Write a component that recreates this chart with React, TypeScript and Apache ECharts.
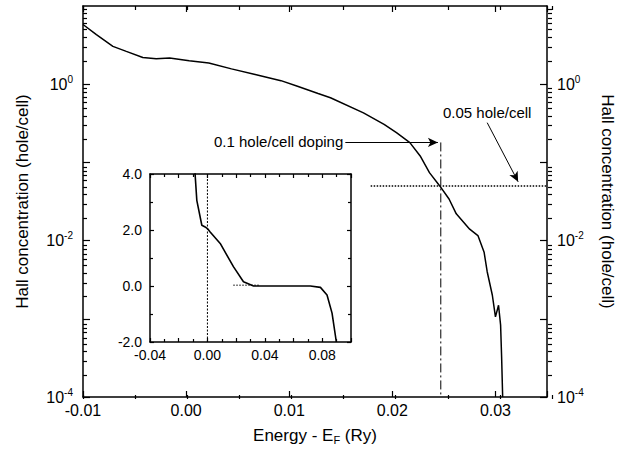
import React, { useEffect, useRef } from "react";
import * as echarts from "echarts";

// ---------- data ----------
const mainX = [
  -0.0100, -0.0087, -0.0071, -0.0058, -0.0042, -0.0029, -0.0016, 0.0003, 0.0022,
  0.0044, 0.0067, 0.0092, 0.0108, 0.0128, 0.0140, 0.0172, 0.0192, 0.0204, 0.0217,
  0.0227, 0.0236, 0.0246, 0.0255, 0.0262, 0.0275, 0.0283, 0.0289, 0.0292, 0.0297,
  0.0300, 0.0303, 0.0305, 0.0306, 0.0307,
];
const mainY = [
  5.8, 4.3, 3.05, 2.63, 2.2, 2.12, 2.17, 2.0, 1.87,
  1.57, 1.33, 1.11, 0.94, 0.76, 0.67, 0.43, 0.307, 0.24, 0.179,
  0.121, 0.074, 0.05, 0.034, 0.022, 0.014, 0.0116, 0.0071, 0.004, 0.002,
  0.00106, 0.00149, 0.00083, 0.00032, 0.0001,
];

const insetX = [
  -0.0092, -0.0086, -0.0074, -0.0039, -0.0016, 0.0, 0.0019, 0.0089, 0.0181,
  0.0251, 0.0321, 0.05, 0.0717, 0.0787, 0.0833, 0.0868, 0.0898,
];
const insetY = [
  5.0, 4.0, 3.06, 2.17, 2.11, 2.05, 1.93, 1.52, 0.69,
  0.15, 0.0, 0.0, 0.0, -0.05, -0.32, -0.97, -2.0,
];

const dopingEnergy = 0.0247; // 0.1 hole/cell doping
const dopingTop = 0.18;
const holeLevel = 0.05; // 0.05 hole/cell
const holeLineX = [0.0179, 0.035];
const arrowDoping = [[0.01544, 0.18], [0.02442, 0.18]];
const arrowHole = [[0.0292, 0.322], [0.0322, 0.0565]];
const insetZeroLine = [[0, -2], [0, 4]];
const insetFlatLine = [[0.018, 0.03], [0.036, 0.03]];

const mainXRange = [-0.01, 0.035];
const mainYRange = [1e-4, 10];
const majorDecades = [1e-4, 1e-3, 1e-2, 1e-1, 1];
const labelDecades = [1e-4, 1e-2, 1];
const minorLogTicks: number[] = [];
for (let e = -4; e < 1; e++) {
  for (let m = 2; m <= 9; m++) minorLogTicks.push(m * Math.pow(10, e));
}
const insetXRange = [-0.04, 0.1];
const insetYRange = [-2, 4];

const annDoping = "0.1 hole/cell doping";
const annHole = "0.05 hole/cell";
const yTitle = "Hall concentration (hole/cell)";

// ---------- styling ----------
const BLACK = "#000";
const FONT = "'Liberation Sans', Arial, Helvetica, sans-serif";
const GRID_MAIN = { left: 83, top: 6, width: 469, height: 393 };
const GRID_INSET = { left: 150, top: 174, width: 201, height: 168 };

const fmtMainX = (v: number) =>
  Math.abs(v * 100 - Math.round(v * 100)) < 1e-6 ? v.toFixed(2) : "";
const fmtLog = (v: number) => {
  const e = Math.round(Math.log10(v));
  return [0, -2, -4].includes(e) ? `{b|10}{s|${e}}` : "";
};
const logRich = {
  b: { fontSize: 16, lineHeight: 20, fontFamily: FONT, color: BLACK },
  s: { fontSize: 10, lineHeight: 8, verticalAlign: "top", fontFamily: FONT, color: BLACK },
};
const fmtInsetX = (v: number) =>
  Math.abs(v / 0.04 - Math.round(v / 0.04)) < 1e-6 ? (Math.abs(v) < 1e-9 ? "0.00" : v.toFixed(2)) : "";
const fmtInsetY = (v: number) => (Math.abs(v) < 1e-9 ? "0.0" : v.toFixed(1));

const axisLine = { show: true, onZero: false, lineStyle: { color: BLACK, width: 1.5 } };
const hiddenLine = { show: false, onZero: false };
const tickStyle = { color: BLACK, width: 1.2 };

export default function App() {
  const ref = useRef<HTMLDivElement>(null);
  useEffect(() => {
    if (!ref.current) return;
    const chart = echarts.init(ref.current, undefined, { renderer: "svg" });
    const mainData = mainX.map((x, i) => [x, mainY[i]]);
    const insetData = insetX.map((x, i) => [x, insetY[i]]);

    const mainXAxis = (pos: string, labels: boolean, extra: any = {}) => ({
      type: "value",
      gridIndex: 0,
      position: pos,
      min: mainXRange[0],
      max: mainXRange[1],
      interval: 0.01,
      axisLine,
      axisTick: { show: true, inside: true, length: 6, lineStyle: tickStyle },
      axisLabel: labels
        ? { show: true, formatter: fmtMainX, fontSize: 16, color: BLACK, fontFamily: FONT, margin: 5 }
        : { show: false },
      splitLine: { show: false },
      ...extra,
    });
    const minorXAxis = (pos: string) => ({
      type: "value",
      gridIndex: 1,
      position: pos,
      min: mainXRange[0],
      max: mainXRange[1],
      interval: 0.005,
      axisLine: hiddenLine,
      axisTick: { show: true, inside: true, length: 4, lineStyle: tickStyle },
      axisLabel: { show: false },
      splitLine: { show: false },
    });
    const mainYAxis = (pos: string, extra: any = {}) => ({
      type: "log",
      logBase: 10,
      gridIndex: 0,
      position: pos,
      min: mainYRange[0],
      max: mainYRange[1],
      axisLine,
      axisTick: { show: true, inside: true, length: 7, lineStyle: tickStyle, customValues: majorDecades },
      axisLabel: {
        show: true,
        customValues: labelDecades,
        formatter: fmtLog,
        rich: logRich,
        margin: 10,
        fontFamily: FONT,
        color: BLACK,
      },
      splitLine: { show: false },
      ...extra,
    });
    const minorYAxis = (pos: string) => ({
      type: "log",
      logBase: 10,
      gridIndex: 1,
      position: pos,
      min: mainYRange[0],
      max: mainYRange[1],
      axisLine: hiddenLine,
      axisTick: { show: true, inside: true, length: 4, lineStyle: tickStyle, customValues: minorLogTicks },
      axisLabel: { show: false },
      splitLine: { show: false },
    });
    const insetXAxis = (pos: string, labels: boolean) => ({
      type: "value",
      gridIndex: 2,
      position: pos,
      min: insetXRange[0],
      max: insetXRange[1],
      interval: 0.02,
      axisLine,
      axisTick: { show: true, inside: true, length: 4, lineStyle: tickStyle },
      minorTick: { show: true, splitNumber: 2, length: 3, lineStyle: tickStyle },
      axisLabel: labels
        ? { show: true, formatter: fmtInsetX, fontSize: 14, color: BLACK, fontFamily: FONT, margin: 6, showMaxLabel: false }
        : { show: false },
      splitLine: { show: false },
    });
    const insetYAxis = (pos: string, labels: boolean) => ({
      type: "value",
      gridIndex: 2,
      position: pos,
      min: insetYRange[0],
      max: insetYRange[1],
      interval: 2,
      axisLine,
      axisTick: { show: true, inside: true, length: 4, lineStyle: tickStyle },
      minorTick: { show: true, splitNumber: 2, length: 3, lineStyle: tickStyle },
      axisLabel: labels
        ? { show: true, formatter: fmtInsetY, fontSize: 14, color: BLACK, fontFamily: FONT, margin: 8 }
        : { show: false },
      splitLine: { show: false },
    });

    const arrowMark = (pts: number[][]) => ({
      silent: true,
      symbol: ["none", "arrow"],
      symbolSize: [7, 10],
      label: { show: false },
      lineStyle: { color: BLACK, width: 1, type: "solid" },
      emphasis: { disabled: true },
      data: [[{ coord: pts[0] }, { coord: pts[1] }]],
    });

    const option: any = {
      animation: false,
      backgroundColor: "#fff",
      textStyle: { fontFamily: FONT },
      grid: [
        { ...GRID_MAIN, containLabel: false },
        { ...GRID_MAIN, containLabel: false },
        { ...GRID_INSET, containLabel: false, show: true, backgroundColor: "#fff", borderWidth: 0 },
      ],
      xAxis: [
        mainXAxis("bottom", true, {
          name: "{a|Energy - E}{sub|F}{a| (Ry)}",
          nameLocation: "middle",
          nameGap: 28,
          nameTextStyle: {
            rich: {
              a: { fontSize: 17, lineHeight: 20, fontFamily: FONT, color: BLACK },
              sub: { fontSize: 11, lineHeight: 9, verticalAlign: "bottom", fontFamily: FONT, color: BLACK },
            },
          },
        }),
        mainXAxis("top", false),
        minorXAxis("bottom"),
        minorXAxis("top"),
        insetXAxis("bottom", true),
        insetXAxis("top", false),
      ],
      yAxis: [
        mainYAxis("left", {
          name: yTitle,
          nameLocation: "middle",
          nameRotate: 90,
          nameGap: 52,
          nameTextStyle: { fontSize: 17, fontFamily: FONT, color: BLACK },
        }),
        mainYAxis("right", {
          name: yTitle,
          nameLocation: "middle",
          nameRotate: -90,
          nameGap: 52,
          nameTextStyle: { fontSize: 17, fontFamily: FONT, color: BLACK },
        }),
        minorYAxis("left"),
        minorYAxis("right"),
        insetYAxis("left", true),
        insetYAxis("right", false),
      ],
      series: [
        {
          name: "Hall concentration",
          type: "line",
          xAxisIndex: 0,
          yAxisIndex: 0,
          data: mainData,
          showSymbol: false,
          symbol: "none",
          lineStyle: { color: BLACK, width: 1.5 },
          silent: true,
        },
        {
          name: "doping line",
          type: "line",
          xAxisIndex: 0,
          yAxisIndex: 0,
          data: [[dopingEnergy, dopingTop], [dopingEnergy, mainYRange[0]]],
          symbol: "none",
          lineStyle: { color: BLACK, width: 1, type: [9, 3, 2, 3] },
          silent: true,
          markLine: arrowMark(arrowDoping),
        },
        {
          name: "0.05 level",
          type: "line",
          xAxisIndex: 0,
          yAxisIndex: 0,
          data: [[holeLineX[0], holeLevel], [holeLineX[1], holeLevel]],
          symbol: "none",
          lineStyle: { color: BLACK, width: 1.5, type: [1.5, 1.5] },
          silent: true,
          markLine: arrowMark(arrowHole),
        },
        {
          name: "inset",
          type: "line",
          xAxisIndex: 4,
          yAxisIndex: 4,
          data: insetData,
          symbol: "none",
          lineStyle: { color: BLACK, width: 1.6 },
          silent: true,
          z: 5,
        },
        {
          name: "inset zero",
          type: "line",
          xAxisIndex: 4,
          yAxisIndex: 4,
          data: insetZeroLine,
          symbol: "none",
          lineStyle: { color: BLACK, width: 1, type: [2, 1.5] },
          silent: true,
          z: 5,
        },
        {
          name: "inset flat",
          type: "line",
          xAxisIndex: 4,
          yAxisIndex: 4,
          data: insetFlatLine,
          symbol: "none",
          lineStyle: { color: BLACK, width: 1, type: [1.5, 1.5] },
          silent: true,
          z: 5,
        },
      ],
      graphic: [
        {
          type: "text",
          left: 214,
          top: 134,
          style: { text: annDoping, fontSize: 15, fontFamily: FONT, fill: BLACK },
        },
        {
          type: "text",
          left: 443,
          top: 105,
          style: { text: annHole, fontSize: 15, fontFamily: FONT, fill: BLACK },
        },
      ],
    };
    chart.setOption(option);
    return () => chart.dispose();
  }, []);
  return (
    <div
      ref={ref}
      style={{ position: "absolute", left: 0, top: 0, width: 624, height: 450, background: "#fff" }}
    />
  );
}
